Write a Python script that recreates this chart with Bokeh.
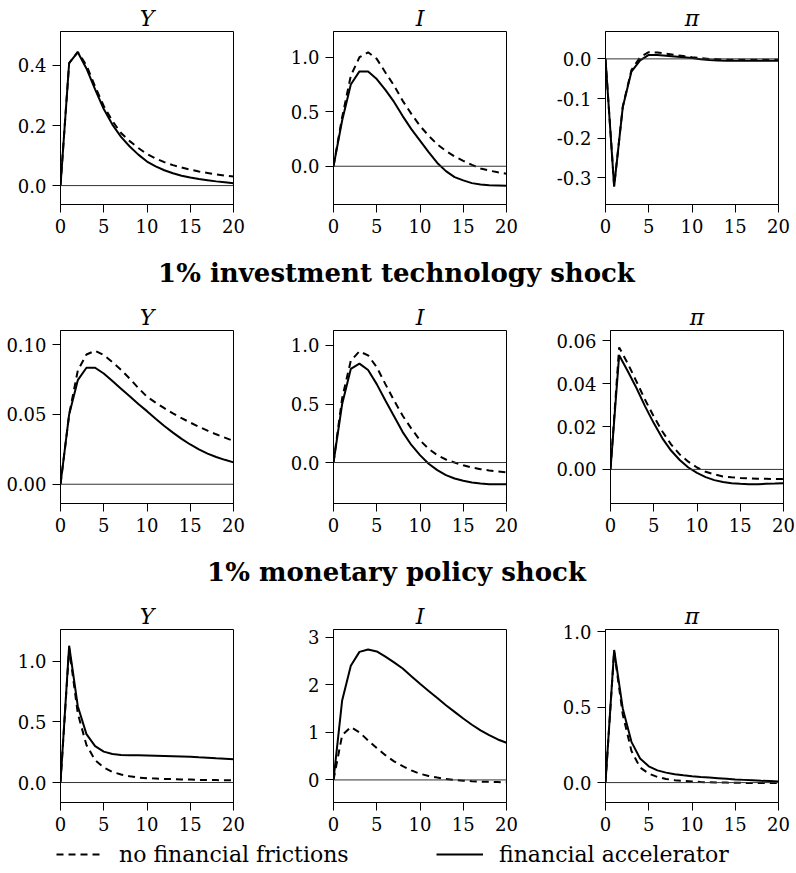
from bokeh.plotting import figure
from bokeh.layouts import column, row
from bokeh.models import (Range1d, FixedTicker, PrintfTickFormatter, Span, Label,
                          Legend, LegendItem)
from bokeh.embed import file_html
from bokeh.resources import INLINE

# ---------------- data ----------------
periods = list(range(21))
x_ticks = [0, 5, 10, 15, 20]
panel_titles = ["Y", "I", "π"]
section_titles = ["1% investment technology shock", "1% monetary policy shock"]
legend_labels = ["no financial frictions", "financial accelerator"]

# technology shock (row 1)
tech_Y_nff = [0, 0.408, 0.445, 0.40, 0.33, 0.265, 0.215, 0.175, 0.148, 0.125, 0.105,
              0.090, 0.078, 0.068, 0.060, 0.053, 0.047, 0.042, 0.037, 0.033, 0.030]
tech_Y_fa = [0, 0.408, 0.444, 0.39, 0.32, 0.255, 0.203, 0.162, 0.130, 0.103, 0.080,
             0.064, 0.051, 0.041, 0.033, 0.027, 0.022, 0.018, 0.014, 0.011, 0.008]
tech_I_nff = [0, 0.45, 0.83, 1.00, 1.045, 0.985, 0.86, 0.74, 0.60, 0.48, 0.37,
              0.28, 0.20, 0.14, 0.09, 0.05, 0.012, -0.02, -0.04, -0.055, -0.068]
tech_I_fa = [0, 0.42, 0.75, 0.87, 0.87, 0.80, 0.70, 0.59, 0.46, 0.34, 0.235,
             0.13, 0.03, -0.045, -0.10, -0.13, -0.155, -0.168, -0.174, -0.177, -0.18]
tech_pi_nff = [0, -0.32, -0.12, -0.028, 0.004, 0.017, 0.016, 0.013, 0.010, 0.007, 0.004,
               0.002, 0.0, -0.001, -0.002, -0.002, -0.002, -0.002, -0.002, -0.002, -0.002]
tech_pi_fa = [0, -0.322, -0.121, -0.032, -0.004, 0.010, 0.010, 0.008, 0.006, 0.004, 0.002,
              -0.001, -0.003, -0.004, -0.005, -0.005, -0.005, -0.005, -0.005, -0.005, -0.005]

# investment technology shock (row 2)
inv_Y_nff = [0, 0.050, 0.0815, 0.093, 0.0957, 0.0926, 0.0875, 0.082, 0.0757, 0.069, 0.0627,
             0.0585, 0.0545, 0.0508, 0.0474, 0.0442, 0.0412, 0.0384, 0.0358, 0.0334, 0.031]
inv_Y_fa = [0, 0.050, 0.0746, 0.0835, 0.0835, 0.0794, 0.074, 0.0685, 0.063, 0.0575, 0.0524,
            0.047, 0.0418, 0.037, 0.0325, 0.0285, 0.025, 0.022, 0.0195, 0.0175, 0.0157]
inv_I_nff = [0, 0.55, 0.87, 0.95, 0.915, 0.815, 0.67, 0.53, 0.40, 0.29, 0.19,
             0.117, 0.063, 0.026, 0.0, -0.023, -0.043, -0.057, -0.068, -0.077, -0.085]
inv_I_fa = [0, 0.50, 0.80, 0.845, 0.79, 0.67, 0.53, 0.395, 0.26, 0.15, 0.063,
            -0.01, -0.065, -0.108, -0.136, -0.156, -0.17, -0.179, -0.185, -0.186, -0.186]
inv_pi_nff = [0, 0.0569, 0.0494, 0.041, 0.0325, 0.0247, 0.0177, 0.0117, 0.007, 0.0036, 0.0009,
              -0.0011, -0.0023, -0.0033, -0.0037, -0.004, -0.0042, -0.0044, -0.0044, -0.0045, -0.0045]
inv_pi_fa = [0, 0.0533, 0.0458, 0.038, 0.0294, 0.0216, 0.0145, 0.0088, 0.0044, 0.0009, -0.0016,
             -0.0036, -0.005, -0.0059, -0.0064, -0.0067, -0.0069, -0.0069, -0.0067, -0.0066, -0.0064]

# monetary policy shock (row 3)
mon_Y_nff = [0, 1.11, 0.57, 0.31, 0.185, 0.124, 0.088, 0.066, 0.052, 0.041, 0.036,
             0.033, 0.030, 0.028, 0.026, 0.024, 0.022, 0.021, 0.020, 0.019, 0.018]
mon_Y_fa = [0, 1.13, 0.63, 0.40, 0.30, 0.255, 0.235, 0.228, 0.226, 0.225, 0.224,
            0.222, 0.22, 0.218, 0.215, 0.212, 0.208, 0.205, 0.20, 0.196, 0.192]
mon_I_nff = [0, 0.94, 1.11, 1.0, 0.83, 0.67, 0.52, 0.39, 0.29, 0.20, 0.13,
             0.084, 0.05, 0.02, 0.0, -0.015, -0.028, -0.035, -0.04, -0.045, -0.05]
mon_I_fa = [0, 1.67, 2.40, 2.69, 2.74, 2.70, 2.59, 2.47, 2.34, 2.18, 2.02,
            1.87, 1.72, 1.57, 1.43, 1.29, 1.16, 1.04, 0.94, 0.85, 0.78]
mon_pi_nff = [0, 0.87, 0.45, 0.21, 0.10, 0.06, 0.037, 0.024, 0.016, 0.011, 0.007,
              0.004, 0.002, 0.001, 0.0, -0.001, -0.002, -0.002, -0.003, -0.003, -0.003]
mon_pi_fa = [0, 0.879, 0.49, 0.27, 0.16, 0.108, 0.081, 0.066, 0.055, 0.048, 0.042,
             0.037, 0.033, 0.029, 0.025, 0.021, 0.018, 0.015, 0.012, 0.010, 0.008]

# y tick values per panel
yt_tech = [[0.0, 0.2, 0.4], [0.0, 0.5, 1.0], [0.0, -0.1, -0.2, -0.3]]
yt_inv = [[0.0, 0.05, 0.10], [0.0, 0.5, 1.0], [0.0, 0.02, 0.04, 0.06]]
yt_mon = [[0.0, 0.5, 1.0], [0, 1, 2, 3], [0.0, 0.5, 1.0]]
yfmt_tech = ["%.1f", "%.1f", "%.1f"]
yfmt_inv = ["%.2f", "%.1f", "%.2f"]
yfmt_mon = ["%.1f", "%d", "%.1f"]

# y ranges per panel
yr_tech = [(-0.063, 0.513), (-0.351, 1.236), (-0.367, 0.069)]
yr_inv = [(-0.0138, 0.1102), (-0.35, 1.128), (-0.0159, 0.0648)]
yr_mon = [(-0.165, 1.264), (-0.474, 3.16), (-0.132, 1.015)]

SERIF = "DejaVu Serif"
DASH = "7 5"
LEFT_BORDERS = [60, 53, 52]
RIGHT_BORDERS = [47, 47, 16]
TOTAL_W = sum(LEFT_BORDERS) + sum(RIGHT_BORDERS) + 3 * 173


def make_panel(col, title, nff, fa, yr, yticks, yfmt, bottom):
    p = figure(frame_width=173, frame_height=173, min_border_left=LEFT_BORDERS[col],
               min_border_right=RIGHT_BORDERS[col], min_border_top=31,
               min_border_bottom=bottom,
               x_range=Range1d(0, 20), y_range=Range1d(*yr),
               toolbar_location=None, output_backend="svg", title=title)
    p.title.text_font = SERIF
    p.title.text_font_style = "italic"
    p.title.text_font_size = "22px"
    p.title.align = "center"
    p.title.standoff = 2
    p.title.text_color = "black"
    p.xgrid.visible = False
    p.ygrid.visible = False
    p.outline_line_color = "black"
    p.outline_line_width = 1
    p.outline_line_alpha = 1
    p.background_fill_color = "white"
    p.border_fill_color = "white"
    p.xaxis.ticker = FixedTicker(ticks=x_ticks)
    p.xaxis.formatter = PrintfTickFormatter(format="%d")
    p.yaxis.ticker = FixedTicker(ticks=yticks)
    p.yaxis.formatter = PrintfTickFormatter(format=yfmt)
    for ax in (p.xaxis[0], p.yaxis[0]):
        ax.axis_line_color = "black"
        ax.major_tick_line_color = "black"
        ax.major_tick_out = 8
        ax.major_tick_in = 0
        ax.minor_tick_line_color = None
        ax.major_label_text_font = SERIF
        ax.major_label_text_font_size = "18px"
        ax.major_label_text_color = "black"
        ax.major_label_standoff = 6
    p.add_layout(Span(location=0, dimension="width", line_color="#333333", line_width=1))
    p.line(periods, nff, line_color="black", line_width=2, line_dash=DASH)
    p.line(periods, fa, line_color="black", line_width=2)
    return p


def make_row(nff_list, fa_list, yrs, yts, yfmts, bottom):
    figs = []
    for c in range(3):
        figs.append(make_panel(c, panel_titles[c], nff_list[c], fa_list[c], yrs[c],
                               yts[c], yfmts[c], bottom))
    return row(*figs)


def make_section(text):
    s = figure(frame_width=TOTAL_W, frame_height=50, min_border=0,
               x_axis_location=None, y_axis_location=None,
               x_range=Range1d(0, 1), y_range=Range1d(0, 1),
               toolbar_location=None, output_backend="svg")
    s.outline_line_color = None
    s.xgrid.visible = False
    s.ygrid.visible = False
    s.add_layout(Label(x=396, y=27, x_units="screen", y_units="screen", text=text,
                       text_align="center", text_baseline="middle",
                       text_font=SERIF, text_font_style="bold",
                       text_font_size="26px", text_color="black"))
    return s


row1 = make_row([tech_Y_nff, tech_I_nff, tech_pi_nff], [tech_Y_fa, tech_I_fa, tech_pi_fa],
                yr_tech, yt_tech, yfmt_tech, 45)
sec1 = make_section(section_titles[0])
row2 = make_row([inv_Y_nff, inv_I_nff, inv_pi_nff], [inv_Y_fa, inv_I_fa, inv_pi_fa],
                yr_inv, yt_inv, yfmt_inv, 45)
sec2 = make_section(section_titles[1])
row3 = make_row([mon_Y_nff, mon_I_nff, mon_pi_nff], [mon_Y_fa, mon_I_fa, mon_pi_fa],
                yr_mon, yt_mon, yfmt_mon, 38)

lg = figure(frame_width=TOTAL_W, frame_height=31, min_border=0,
            x_axis_location=None, y_axis_location=None,
            x_range=Range1d(0, 1), y_range=Range1d(0, 1),
            toolbar_location=None, output_backend="svg")
lg.outline_line_color = None
lg.xgrid.visible = False
lg.ygrid.visible = False
# placeholder renderers (a single missing point) so that the legend can draw its keys
nan = float("nan")
r_nff = lg.line(x=[nan], y=[nan], line_color="black", line_width=2, line_dash=DASH)
r_fa = lg.line(x=[nan], y=[nan], line_color="black", line_width=2)
for lab, rend, xloc in ((legend_labels[0], r_nff, 56), (legend_labels[1], r_fa, 436)):
    leg = Legend(items=[LegendItem(label=lab, renderers=[rend])], location=(xloc, 4),
                 glyph_width=47, glyph_height=20, label_height=26, label_standoff=16,
                 padding=0, margin=0, border_line_color=None, background_fill_alpha=0,
                 label_text_font=SERIF, label_text_font_size="22px",
                 label_text_color="black")
    lg.add_layout(leg)

layout = column(row1, sec1, row2, sec2, row3, lg)

open("out.html", "w").write(file_html(layout, INLINE))
